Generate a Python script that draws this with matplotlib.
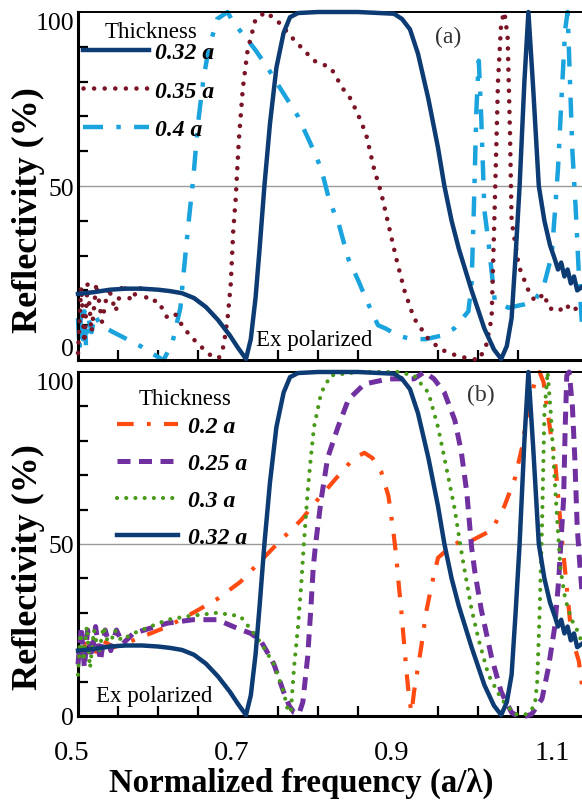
import matplotlib
matplotlib.use("Agg")
import matplotlib.pyplot as plt
from matplotlib.ticker import MultipleLocator, FixedLocator
from matplotlib.transforms import ScaledTranslation

plt.rcParams['font.family'] = ['Liberation Serif', 'DejaVu Serif']

# ------------------------------
# Data
# ------------------------------
# 0.32 a (same curve in both panels)
x_032 = [0.500, 0.520, 0.540, 0.560, 0.580, 0.600, 0.615, 0.630, 0.645, 0.660, 0.675, 0.690, 0.700, 0.710,
         0.716, 0.722, 0.727, 0.733, 0.740, 0.748, 0.757, 0.765, 0.775, 0.800, 0.850, 0.895, 0.905, 0.915,
         0.925, 0.938, 0.950, 0.958, 0.967, 0.976, 0.992, 1.008, 1.020, 1.029, 1.036, 1.042, 1.047, 1.052,
         1.058, 1.063, 1.069, 1.076, 1.083, 1.090, 1.096, 1.100, 1.104, 1.108, 1.112, 1.116, 1.120, 1.124, 1.130]
r_032 = [19, 19.5, 20.2, 20.5, 20.5, 20.2, 19.8, 19.2, 17.8, 15.2, 11.5, 7, 3.5, 0.3,
         6, 18, 32, 50, 68, 84, 94, 98.5, 99.7, 100, 100, 99.5, 98, 95,
         88, 75, 61, 50, 40, 32, 20, 9, 3, 0.3, 4, 12, 30, 50,
         80, 100, 78, 50, 40, 33, 29, 26, 28, 24, 26, 22, 24, 20, 21]

# 0.35 a (panel a)
x_035 = [0.500, 0.504, 0.508, 0.512, 0.517, 0.523, 0.530, 0.538, 0.547, 0.556,
         0.566, 0.577, 0.588, 0.600, 0.612, 0.622, 0.630, 0.640, 0.653, 0.665,
         0.676, 0.682, 0.687, 0.691, 0.694, 0.697, 0.701, 0.706, 0.712, 0.722,
         0.735, 0.751, 0.770, 0.795, 0.816, 0.831, 0.841, 0.851, 0.860, 0.870,
         0.879, 0.889, 0.898, 0.908, 0.920, 0.938, 0.954, 0.976, 1.001, 1.010,
         1.017, 1.021, 1.025, 1.029, 1.033, 1.037, 1.040, 1.042, 1.051, 1.063,
         1.071, 1.083, 1.088, 1.101, 1.110, 1.117, 1.124, 1.130]
r_035 = [2, 21, 5, 22, 8, 22, 11, 21, 14, 22,
         17, 21, 17, 17, 12, 13, 10, 7, 4, 1.5,
         0.5, 4, 12, 22, 37, 46, 63, 78, 89, 98,
         100, 97, 92, 86, 84, 78, 75, 70, 65, 55,
         48, 38, 29, 20, 12, 6, 3, 1, 0, 4,
         12, 45, 80, 97, 100, 93, 65, 40, 27, 20,
         17, 19, 15, 14, 16, 14, 15, 16]

# 0.4 a (panel a)
x_04 = [0.500, 0.502, 0.504, 0.506, 0.508, 0.510, 0.513, 0.517, 0.521, 0.528,
        0.544, 0.561, 0.578, 0.599, 0.607, 0.618, 0.628, 0.632, 0.638, 0.644,
        0.650, 0.657, 0.663, 0.674, 0.687, 0.694, 0.712, 0.722, 0.737, 0.753,
        0.775, 0.791, 0.804, 0.814, 0.826, 0.838, 0.850, 0.863, 0.875, 0.885,
        0.900, 0.917, 0.935, 0.954, 0.970, 0.988, 0.992, 0.995, 0.998, 1.001,
        1.004, 1.008, 1.013, 1.021, 1.038, 1.058, 1.071, 1.083, 1.092, 1.096,
        1.100, 1.105, 1.109, 1.112, 1.115, 1.118, 1.122, 1.126, 1.130]
r_04 = [12, 3, 16, 6, 14, 4, 12, 8, 13, 10,
        8, 6, 4, 1, 0, 5, 15, 25, 39, 52,
        68, 81, 89, 98, 100, 97, 92, 89, 84, 78,
        70, 62, 55, 46, 39, 29, 23, 16, 10, 9,
        7, 6, 6, 7, 9, 14, 22, 45, 72, 86,
        70, 43, 34, 17, 15, 16, 17, 22, 30, 42,
        55, 78, 95, 100, 80, 60, 44, 25, 10]

# 0.2 a (panel b)
x_02 = [0.500, 0.510, 0.520, 0.530, 0.545, 0.569, 0.612, 0.644, 0.674, 0.703,
        0.728, 0.753, 0.779, 0.800, 0.826, 0.845, 0.858, 0.868, 0.879, 0.888,
        0.894, 0.898, 0.901, 0.904, 0.908, 0.911, 0.914, 0.917, 0.920, 0.929,
        0.935, 0.942, 0.950, 0.965, 0.979, 0.992, 1.017, 1.033, 1.046, 1.055,
        1.063, 1.071, 1.077, 1.082, 1.086, 1.091, 1.096, 1.105, 1.109, 1.117, 1.126, 1.130]
r_02 = [17, 21, 18, 22, 20, 22, 26, 30, 34, 39,
        45, 51, 57, 63, 70, 75, 76.5, 75, 71, 64,
        54, 46, 38, 31, 20, 12, 5, 1, 7, 20,
        30, 38, 46, 49, 51, 51, 54, 61, 69, 78,
        90, 97, 100, 97, 90, 82, 75, 51, 42, 23, 16, 9]

# 0.25 a (panel b)
x_025 = [0.500, 0.504, 0.508, 0.512, 0.517, 0.522, 0.528, 0.534, 0.541, 0.548,
         0.556, 0.569, 0.590, 0.612, 0.644, 0.674, 0.694, 0.716, 0.728, 0.738,
         0.745, 0.751, 0.757, 0.764, 0.770, 0.776, 0.781, 0.787, 0.791, 0.794,
         0.797, 0.804, 0.812, 0.825, 0.838, 0.858, 0.888, 0.920, 0.933, 0.945,
         0.958, 0.971, 0.979, 0.986, 0.992, 0.996, 1.004, 1.017, 1.029, 1.042,
         1.050, 1.060, 1.067, 1.080, 1.088, 1.096, 1.101, 1.104, 1.107, 1.109,
         1.111, 1.114, 1.118, 1.121, 1.124, 1.127, 1.130]
r_025 = [15, 26, 14, 25, 17, 26, 16, 25, 19, 25,
         21, 24, 25.5, 27, 28, 28, 26, 24, 22, 18,
         15, 11, 7, 3, 1, 0.5, 4, 17, 31, 43,
         50, 63, 75, 84, 92, 96.5, 98, 98, 100, 98,
         94, 86, 77, 65, 49, 42, 31, 17, 7, 1,
         0, 0, 0.5, 5, 14, 26, 40, 52, 63, 84,
         99, 100, 90, 75, 55, 45, 36]

# 0.3 a (panel b)
x_03 = [0.500, 0.503, 0.507, 0.511, 0.515, 0.520, 0.526, 0.532, 0.539, 0.546,
        0.554, 0.569, 0.612, 0.637, 0.674, 0.703, 0.720, 0.732, 0.745, 0.757,
        0.762, 0.766, 0.770, 0.775, 0.779, 0.782, 0.787, 0.791, 0.795, 0.804,
        0.816, 0.850, 0.900, 0.920, 0.938, 0.950, 0.958, 0.971, 0.977, 0.982,
        0.992, 1.001, 1.013, 1.029, 1.046, 1.061, 1.071, 1.074, 1.077, 1.080,
        1.083, 1.087, 1.091, 1.095, 1.099, 1.103, 1.109, 1.117, 1.126, 1.130]
r_03 = [12, 24, 16, 26, 14, 25, 18, 26, 20, 25,
        22, 24, 28, 29, 30, 29, 24, 20, 15, 7,
        2, 1, 14, 26, 38, 49, 65, 75, 84, 94,
        99, 100, 100, 99, 94, 84, 75, 60, 51, 44,
        31, 22, 12, 5, 0.5, 0.5, 3, 10, 30, 55,
        88, 100, 88, 72, 57, 43, 34, 28, 24, 21]

x_ticks = [0.5, 0.7, 0.9, 1.1]
x_ticklabels = ["0.5", "0.7", "0.9", "1.1"]
y_ticks = [0, 50, 100]

# ------------------------------
# Figure
# ------------------------------
navy = "#0D3B73"
maroon = "#7A1528"
skyblue = "#1AA3DD"
orangered = "#FF4A12"
purple = "#7030A0"
green = "#4A9A1A"

fig = plt.figure(figsize=(5.82, 8.04), dpi=100)
ax_a = fig.add_axes([78 / 582, 1 - 361 / 804, 504 / 582, 348 / 804])
ax_b = fig.add_axes([78 / 582, 1 - 717 / 804, 504 / 582, 344 / 804])

# panel (a)
ax_a.plot(x_032, r_032, color=navy, lw=3.2, label="0.32 a", zorder=4, clip_on=False)
ax_a.plot(x_035, r_035, color=maroon, lw=3.3, linestyle=(0, (0.01, 2.3)),
          dash_capstyle="round", label="0.35 a", zorder=3, clip_on=False)
ax_a.plot(x_04, r_04, color=skyblue, lw=3.2, linestyle=(0, (4.5, 3, 1, 3)),
          label="0.4 a", zorder=2, clip_on=False)

# panel (b)
ax_b.plot(x_02, r_02, color=orangered, lw=3.0, linestyle=(0, (4, 3.2, 0.9, 3.2)),
          label="0.2 a", zorder=2, clip_on=False)
ax_b.plot(x_025, r_025, color=purple, lw=3.6, linestyle=(0, (2.6, 1.7)),
          label="0.25 a", zorder=3, clip_on=False)
ax_b.plot(x_03, r_03, color=green, lw=3.0, linestyle=(0, (0.01, 2.2)),
          dash_capstyle="round", label="0.3 a", zorder=3, clip_on=False)
ax_b.plot(x_032, r_032, color=navy, lw=3.2, label="0.32 a", zorder=4, clip_on=False)

for ax in (ax_a, ax_b):
    ax.set_xlim(0.5, 1.13)
    ax.set_ylim(0, 100)
    ax.axhline(50, color="#9A9A9A", lw=1.0, zorder=1)
    ax.xaxis.set_major_locator(FixedLocator(x_ticks))
    ax.xaxis.set_minor_locator(MultipleLocator(0.05))
    ax.yaxis.set_major_locator(FixedLocator(y_ticks))
    ax.yaxis.set_minor_locator(MultipleLocator(10))
    ax.tick_params(axis="both", which="both", direction="in", length=7, width=1.6,
                   top=False, right=False)
    ax.tick_params(axis="x", which="major", length=0, labelsize=20.5, pad=17)
    ax.tick_params(axis="y", which="major", length=0, labelsize=18.5, pad=3)
    ax.spines["left"].set_linewidth(2.2)
    ax.spines["bottom"].set_linewidth(2.2)
    ax.spines["top"].set_linewidth(1.4)
    ax.spines["right"].set_visible(False)
    ax.set_ylabel("Reflectivity (%)", fontsize=26, fontweight="bold")
    ax.yaxis.set_label_coords(-0.066, 0.435)

ax_a.set_xticklabels([])
ax_b.set_xticklabels(x_ticklabels)
ax_b.set_xlabel("Normalized frequency (a/λ)", fontsize=23.7, fontweight="bold")
ax_b.xaxis.set_label_coords(0.442, -0.149)

# tick label nudges to sit like the reference
fig.canvas.draw()
for lab in ax_a.get_yticklabels():
    if lab.get_text() == "0":
        lab.set_verticalalignment("bottom")
    elif lab.get_text() == "100":
        lab.set_verticalalignment("top")
for lab in ax_b.get_yticklabels():
    if lab.get_text() == "100":
        lab.set_verticalalignment("top")
shift_left = ScaledTranslation(-6 / 100, 0, fig.dpi_scale_trans)
for lab in ax_b.get_xticklabels():
    lab.set_transform(lab.get_transform() + shift_left)

leg_font = dict(family="Liberation Serif", weight="bold", style="italic", size=17)

ax_a.legend(prop=leg_font, loc="upper left", bbox_to_anchor=(0.01, 0.915), frameon=False,
            handlelength=2.8, handletextpad=0.25, labelspacing=0.72, borderaxespad=0,
            borderpad=0)
ax_b.legend(prop=leg_font, loc="upper left", bbox_to_anchor=(0.077, 0.874), frameon=False,
            handlelength=2.6, handletextpad=0.4, labelspacing=0.66, borderaxespad=0,
            borderpad=0)
ax_a.text(0.145, 0.945, "Thickness", transform=ax_a.transAxes, fontsize=16.5,
          ha="center", va="center")
ax_b.text(0.212, 0.924, "Thickness", transform=ax_b.transAxes, fontsize=16.5,
          ha="center", va="center")

ax_a.text(0.735, 0.93, "(a)", transform=ax_a.transAxes, fontsize=17, color="#333333",
          ha="center", va="center")
ax_b.text(0.80, 0.935, "(b)", transform=ax_b.transAxes, fontsize=17, color="#333333",
          ha="center", va="center")
ax_a.text(0.468, 0.06, "Ex polarized", transform=ax_a.transAxes, fontsize=16.5,
          ha="center", va="center")
ax_b.text(0.152, 0.06, "Ex polarized", transform=ax_b.transAxes, fontsize=16.5,
          ha="center", va="center")

fig.savefig("out.png", dpi=100)
